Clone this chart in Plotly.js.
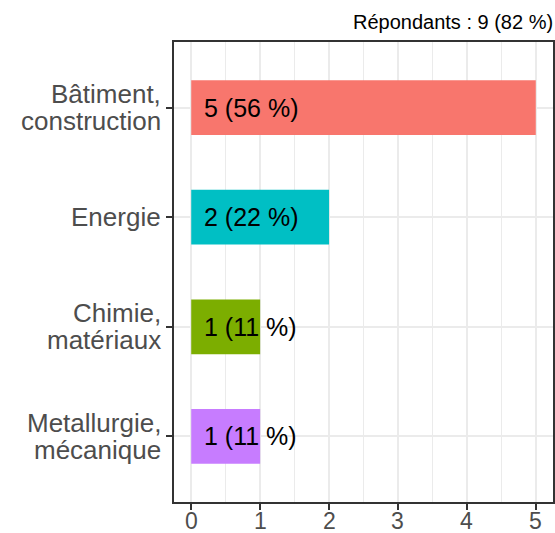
<!DOCTYPE html>
<html>
<head>
<meta charset="utf-8">
<script src="https://cdn.plot.ly/plotly-3.0.1.min.js"></script>
<style>html,body{margin:0;padding:0;background:#fff}</style>
</head>
<body>
<div id="chart" style="width:555px;height:533px"></div>
<script>
const categories = ["Bâtiment, construction", "Energie", "Chimie, matériaux", "Metallurgie, mécanique"];
const categoryLines = [["Bâtiment,", "construction"], ["Energie"], ["Chimie,", "matériaux"], ["Metallurgie,", "mécanique"]];
const counts = [5, 2, 1, 1];
const labels = ["5 (56 %)", "2 (22 %)", "1 (11 %)", "1 (11 %)"];
const colors = ["#F8766D", "#00BFC4", "#7CAE00", "#C77CFF"];
const tickVals = [0, 1, 2, 3, 4, 5];
const tickText = ["0", "1", "2", "3", "4", "5"];
const titleText = "Répondants : 9 (82 %)";

const font = "Liberation Sans, Arial, sans-serif";

const trace = {
  type: "bar",
  orientation: "h",
  x: counts,
  y: categories,
  width: 0.5,
  marker: {color: colors, line: {width: 0}},
  hoverinfo: "none"
};

const annotations = [];
categories.forEach((c, i) => {
  annotations.push({
    x: 0, y: c, xref: "x", yref: "y",
    text: labels[i], showarrow: false,
    xanchor: "left", yanchor: "middle", xshift: 11,
    font: {family: font, size: 25, color: "#000000"}
  });
  const lines = categoryLines[i];
  const lh = 27;
  lines.forEach((ln, j) => {
    const off = (j - (lines.length - 1) / 2) * lh;
    annotations.push({
      x: 0, y: c, xref: "paper", yref: "y",
      text: ln, showarrow: false,
      xanchor: "right", yanchor: "middle", xshift: -12, yshift: -off,
      borderpad: 0,
      font: {family: font, size: 26, color: "#4d4d4d"}
    });
  });
});
tickVals.forEach((v, i) => {
  annotations.push({
    x: v, y: 0, xref: "x", yref: "paper",
    text: tickText[i], showarrow: false,
    xanchor: "center", yanchor: "middle", yshift: -19,
    borderpad: 0,
    font: {family: font, size: 23, color: "#4d4d4d"}
  });
});
annotations.push({
  x: 1, y: 1, xref: "paper", yref: "paper",
  xanchor: "right", yanchor: "bottom", yshift: 7, xshift: 2,
  text: titleText, showarrow: false,
  font: {family: font, size: 20, color: "#000000"}
});

const layout = {
  width: 555, height: 533,
  margin: {l: 174, r: 2, t: 42, b: 31, pad: 0},
  paper_bgcolor: "#ffffff", plot_bgcolor: "#ffffff",
  showlegend: false,
  font: {family: font},
  xaxis: {
    range: [-0.25, 5.25],
    tickvals: tickVals,
    showticklabels: false,
    ticks: "outside", ticklen: 6, tickwidth: 2, tickcolor: "#333333",
    showgrid: true, gridcolor: "#ebebeb", gridwidth: 2,
    minor: {dtick: 0.5, tick0: 0, showgrid: true, gridcolor: "#ebebeb", gridwidth: 1, ticks: ""},
    zeroline: false,
    showline: true, mirror: true, linecolor: "#333333", linewidth: 2
  },
  yaxis: {
    type: "category",
    categoryorder: "array", categoryarray: categories,
    range: [3.6, -0.6],
    ticks: "outside", ticklen: 6, tickwidth: 2, tickcolor: "#333333",
    showticklabels: false,
    showgrid: true, gridcolor: "#ebebeb", gridwidth: 2,
    zeroline: false,
    showline: true, mirror: true, linecolor: "#333333", linewidth: 2
  },
  annotations: annotations
};

Plotly.newPlot("chart", [trace], layout, {displayModeBar: false, staticPlot: true});
</script>
</body>
</html>
